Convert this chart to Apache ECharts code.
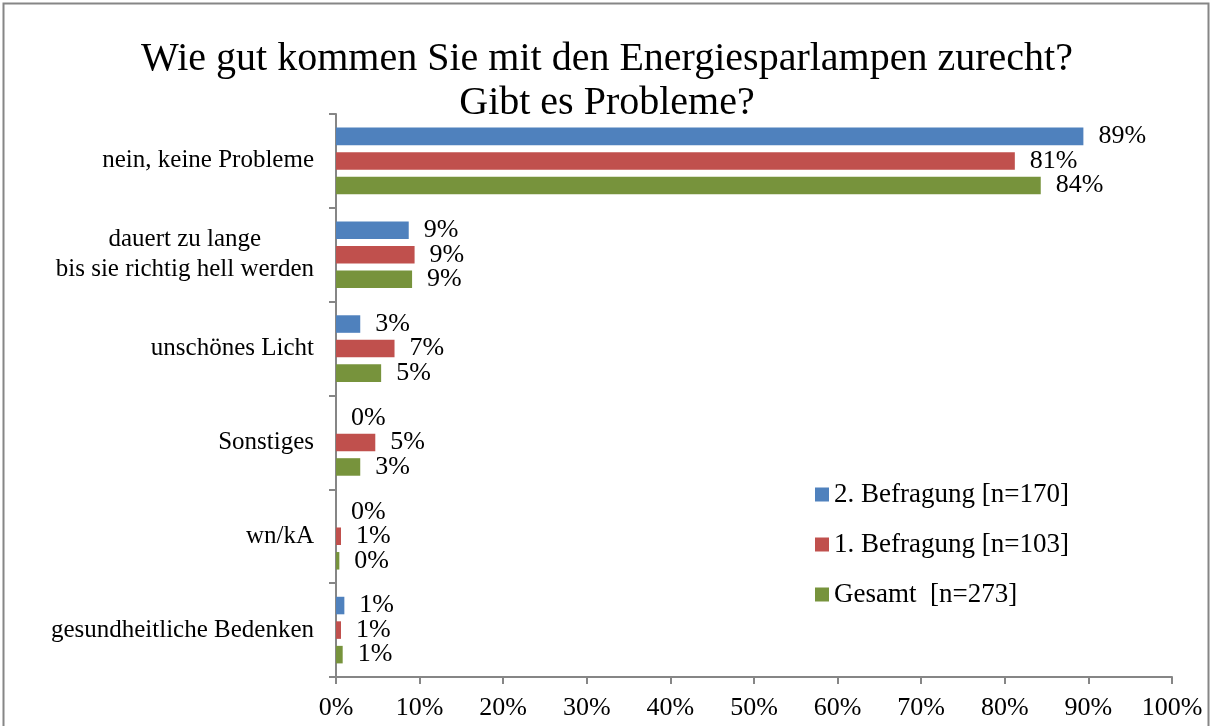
<!DOCTYPE html>
<html>
<head>
<meta charset="utf-8">
<script src="https://cdn.jsdelivr.net/npm/echarts@6/dist/echarts.min.js"></script>
<style>
    html, body { margin: 0; padding: 0; background: #fff; }
    #chart { width: 1214px; height: 726px; }
</style>
</head>
<body>
<div id="chart"></div>
<script>
const varFont = 'Liberation Serif';

// categories, top to bottom
const categories = [
    'nein, keine Probleme',
    'dauert zu lange\nbis sie richtig hell werden',
    'unschönes Licht',
    'Sonstiges',
    'wn/kA',
    'gesundheitliche Bedenken'
];

// percentages
const befragung2 = [89.4, 8.7, 2.9, 0, 0, 1.0];
const befragung1 = [81.2, 9.4, 7.0, 4.7, 0.6, 0.6];
const gesamt = [84.3, 9.1, 5.4, 2.9, 0.4, 0.8];

const seriesArray = [
    { name: '2. Befragung [n=170]', data: befragung2, color: '#4F81BD' },
    { name: '1. Befragung [n=103]', data: befragung1, color: '#C0504D' },
    { name: 'Gesamt  [n=273]', data: gesamt, color: '#77933C' },
];

function createChart(elementId, optionChart) {
    var myChart = echarts.init(document.getElementById(elementId));
    myChart.setOption(optionChart);
};

let seriesItems = [];

seriesArray.forEach((arr) => {
    seriesItems.push({
        name: arr.name,
        type: 'bar',
        data: arr.data,
        barGap: '40%',
        barCategoryGap: '29%',
        itemStyle: {
            color: arr.color,
        },
        label: {
            show: true,
            position: 'right',
            distance: 15,
            color: '#000',
            fontFamily: varFont,
            fontSize: 26,
            formatter: (p) => Math.round(p.value) + '%',
        },
    });
});

var option = {
    animation: false,
    textStyle: {
        fontFamily: varFont,
    },
    title: {
        text: 'Wie gut kommen Sie mit den Energiesparlampen zurecht?\nGibt es Probleme?',
        left: 'center',
        top: 32,
        textStyle: {
            fontFamily: varFont,
            fontSize: 40,
            fontWeight: 'normal',
            color: '#000',
            lineHeight: 44,
        },
    },
    legend: {
        orient: 'vertical',
        left: 815,
        top: 481,
        padding: 0,
        itemWidth: 14,
        itemHeight: 14,
        itemGap: 23,
        icon: 'rect',
        textStyle: {
            fontFamily: varFont,
            fontSize: 27,
            color: '#000',
        },
    },
    grid: {
        left: 336,
        right: 42,
        top: 114,
        bottom: 49,
    },
    xAxis: {
        type: 'value',
        min: 0,
        max: 100,
        interval: 10,
        axisLine: { show: true, lineStyle: { color: '#868686', width: 2 } },
        axisTick: { show: true, length: 7, lineStyle: { color: '#868686', width: 2 } },
        splitLine: { show: false },
        axisLabel: {
            formatter: '{value}%',
            color: '#000',
            fontFamily: varFont,
            fontSize: 26,
            margin: 18,
        },
    },
    yAxis: {
        type: 'category',
        inverse: true,
        data: categories,
        axisLine: { show: true, lineStyle: { color: '#868686', width: 2 } },
        axisTick: { show: true, length: 7, lineStyle: { color: '#868686', width: 2 } },
        axisLabel: {
            color: '#000',
            fontFamily: varFont,
            fontSize: 25,
            margin: 22,
            lineHeight: 30,
            formatter: (v) => v.split('\n').map((s) => '{c|' + s + '}').join('\n'),
            rich: {
                c: {
                    align: 'center',
                    fontFamily: varFont,
                    fontSize: 25,
                    lineHeight: 30,
                    color: '#000',
                },
            },
        },
    },
    graphic: [
        {
            type: 'rect',
            shape: { x: 3.5, y: 3.5, width: 1205, height: 740 },
            style: { fill: 'none', stroke: '#868686', lineWidth: 2 },
            silent: true,
        },
    ],
    series: seriesItems,
};

createChart('chart', option);
</script>
</body>
</html>
